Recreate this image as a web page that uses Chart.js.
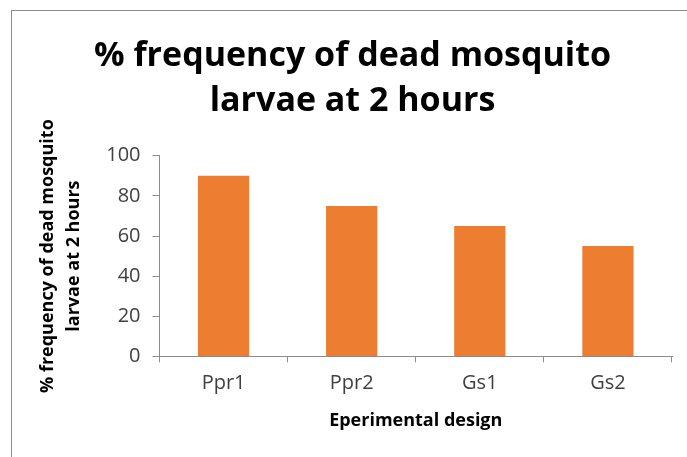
<!DOCTYPE html>
<html>
<head>
<meta charset="utf-8">
<script src="https://cdn.jsdelivr.net/npm/chart.js@4"></script>
<style>
  html, body { margin: 0; padding: 0; background: #fff; }
  #wrap { position: relative; width: 687px; height: 457px; }
  #frame { position: absolute; left: 11px; top: 10px; right: -2px; bottom: -2px; border: 1px solid #8c8c8c; }
  canvas { position: absolute; left: 0; top: 0; }
</style>
</head>
<body>
<div id="wrap">
  <div id="frame"></div>
  <canvas id="myChart" width="687" height="457"></canvas>
</div>
<script>
var categories = ['Ppr1', 'Ppr2', 'Gs1', 'Gs2'];
var deadLarvae = [90, 75, 65, 55];
var titleLines = ['% frequency of dead mosquito', 'larvae at 2 hours'];
var yTitleLines = ['% frequency of dead mosquito', 'larvae at 2 hours'];
var xTitle = 'Eperimental design';

var font = "'Open Sans'";

var ctx = document.getElementById('myChart').getContext('2d');
var chart = new Chart(ctx, {
    type: 'bar',
    data: {
        labels: categories,
        datasets: [{
            label: 'dead larvae',
            backgroundColor: '#ED7D31',
            borderWidth: 0,
            data: deadLarvae,
            categoryPercentage: 0.8,
            barPercentage: 0.5
        }]
    },
    options: {
        responsive: false,
        animation: false,
        layout: { padding: { left: 33, right: 15, top: 18, bottom: 21 } },
        plugins: {
            legend: { display: false },
            tooltip: { enabled: false },
            title: {
                display: true,
                text: titleLines,
                color: '#000',
                font: { family: font, size: 34, weight: 'bold', lineHeight: 1.32 },
                padding: { top: 16, bottom: 32 }
            }
        },
        scales: {
            x: {
                grid: { drawOnChartArea: false, color: '#8c8c8c', tickLength: 6 },
                border: { color: '#8c8c8c' },
                ticks: { color: '#404040', font: { family: font, size: 20 }, padding: 9 },
                title: {
                    display: true,
                    text: xTitle,
                    color: '#000',
                    font: { family: font, size: 18, weight: 'bold' },
                    padding: { top: 6, bottom: 4 }
                }
            },
            y: {
                min: 0,
                max: 100,
                grid: { drawOnChartArea: false, color: '#8c8c8c', tickLength: 7 },
                border: { color: '#8c8c8c' },
                ticks: { stepSize: 20, color: '#404040', font: { family: font, size: 20 }, padding: 12 },
                title: {
                    display: true,
                    text: yTitleLines,
                    color: '#000',
                    font: { family: font, size: 18, weight: 'bold', lineHeight: 1.45 },
                    padding: { top: 2, bottom: 7 }
                }
            }
        }
    }
});
</script>
</body>
</html>
